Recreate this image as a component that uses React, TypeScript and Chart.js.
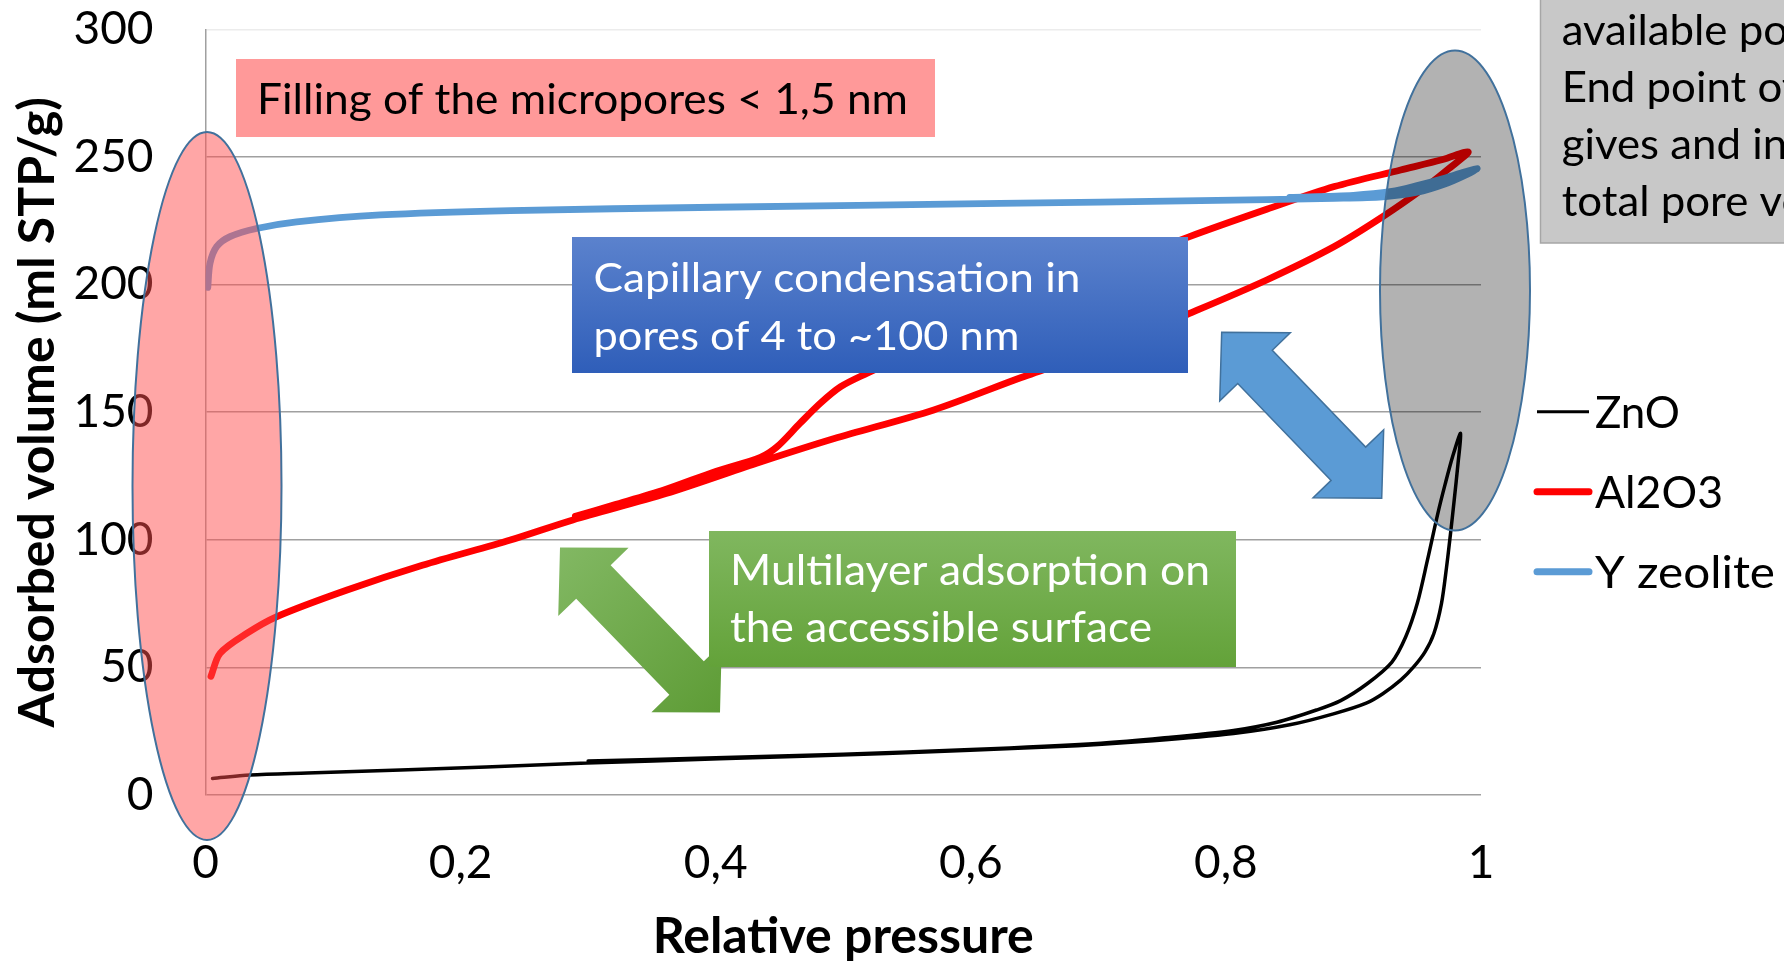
import React, { useEffect, useRef } from 'react';
import { Chart, registerables } from 'chart.js';

Chart.register(...registerables);

const CANVAS_W = 1784;
const CANVAS_H = 962;
const FONT = 'Lato, "Noto Sans", sans-serif';

// ---- series ----
const seriesNames = ['ZnO', 'Al2O3', 'Y zeolite'];
const seriesColors = ['#000000', '#ff0000', '#5b9bd5'];
const seriesWidths = [3.5, 6.8, 6.8];

// ZnO: adsorption branch, then desorption branch back down
const znoAdsP = [0.0055, 0.035, 0.08, 0.153, 0.22, 0.299, 0.403, 0.534, 0.665, 0.743, 0.806, 0.85, 0.885, 0.91, 0.923, 0.937, 0.947, 0.956, 0.963, 0.969, 0.973, 0.976, 0.979, 0.982, 0.984];
const znoAdsV = [6.5, 7.8, 8.6, 9.8, 11.0, 12.5, 14.2, 16.3, 18.9, 21.3, 24.1, 27.5, 31.9, 36.0, 39.7, 45, 50.1, 56, 63.2, 75, 89.3, 102, 115.6, 130, 141.7];
const znoDesP = [0.978, 0.972, 0.966, 0.958, 0.95, 0.941, 0.93, 0.911, 0.89, 0.871, 0.84, 0.806, 0.75, 0.702, 0.6, 0.5, 0.4, 0.3];
const znoDesV = [133, 122, 110, 92, 75, 62, 52, 43.7, 37, 33.3, 28.5, 25.3, 22.3, 20.3, 17.8, 16.0, 14.6, 13.3];

// Al2O3
const al2AdsP = [0.0043, 0.0114, 0.0323, 0.056, 0.111, 0.17, 0.239, 0.288, 0.361, 0.435, 0.493, 0.571, 0.639, 0.71, 0.771, 0.832, 0.885, 0.923, 0.957, 0.975, 0.99];
const al2AdsV = [46.5, 55.5, 63.3, 69.9, 80.3, 90, 99.9, 107.8, 118.1, 130.5, 139.7, 150.9, 163.5, 176, 188.6, 201.8, 214.9, 226.6, 238.4, 245.5, 252];
const al2DesP = [0.97, 0.937, 0.885, 0.832, 0.771, 0.7, 0.65, 0.6, 0.55, 0.518, 0.498, 0.482, 0.466, 0.448, 0.435, 0.4, 0.36, 0.32, 0.29];
const al2DesV = [249, 244.9, 238.4, 229.5, 218.7, 205, 194, 183, 172.5, 165.1, 160, 153.5, 145.6, 136.4, 132.3, 126.8, 119.6, 113.6, 109.2];

// Y zeolite
const zeoAdsP = [0.0018, 0.0035, 0.0088, 0.0192, 0.04, 0.0715, 0.137, 0.239, 0.4, 0.623, 0.78, 0.885, 0.923, 0.95, 0.971, 0.989, 0.997];
const zeoAdsV = [198.9, 208.3, 214.9, 218.8, 222.0, 224.6, 227.3, 229.0, 230.3, 231.8, 232.9, 233.8, 234.4, 236.2, 239.3, 243.2, 245.5];
const zeoDesP = [0.985, 0.97, 0.95, 0.93, 0.9, 0.85];
const zeoDesV = [243.8, 241.5, 238.8, 236.5, 235.0, 234.2];

// ---- axes ----
const xTicks = [0, 0.2, 0.4, 0.6, 0.8, 1];
const xTickLabels = ['0', '0,2', '0,4', '0,6', '0,8', '1'];
const yMin = 0;
const yMax = 300;
const yStep = 50;
const xTitle = 'Relative pressure';
const yTitle = 'Adsorbed volume (ml STP/g)';

// ---- annotation texts ----
const microText = ['Filling of the micropores < 1,5 nm'];
const capillaryText = ['Capillary condensation in', 'pores of 4 to ~100 nm'];
const multilayerText = ['Multilayer adsorption on', 'the accessible surface'];
const endPointText = ['available pores.', 'End point of the isotherm', 'gives and indication of the', 'total pore volume'];

const toPoints = (ps: number[], vs: number[]) => ps.map((p, i) => ({ x: p, y: vs[i] }));

const branches = [
  [...toPoints(znoAdsP, znoAdsV), ...toPoints(znoDesP, znoDesV)],
  [...toPoints(al2AdsP, al2AdsV), ...toPoints(al2DesP, al2DesV)],
  [...toPoints(zeoAdsP, zeoAdsV), ...toPoints(zeoDesP, zeoDesV)],
];

function fitText(ctx: CanvasRenderingContext2D, text: string, x: number, y: number, targetW?: number) {
  const w = ctx.measureText(text).width;
  const s = targetW ? targetW / w : 1;
  ctx.save();
  ctx.translate(x, y);
  ctx.scale(s, 1);
  ctx.fillText(text, 0, 0);
  ctx.restore();
}

function ellipse(ctx: CanvasRenderingContext2D, cx: number, cy: number, rx: number, ry: number, fill: string, stroke: string) {
  ctx.beginPath();
  ctx.ellipse(cx, cy, rx, ry, 0, 0, Math.PI * 2);
  ctx.fillStyle = fill;
  ctx.fill();
  ctx.lineWidth = 2;
  ctx.strokeStyle = stroke;
  ctx.stroke();
}

function doubleArrow(ctx: CanvasRenderingContext2D, ax: number, ay: number, bx: number, by: number, headLen: number, headHalf: number, shaftHalf: number) {
  const dx = bx - ax;
  const dy = by - ay;
  const L = Math.hypot(dx, dy);
  const ux = dx / L, uy = dy / L;
  const nx = -uy, ny = ux;
  const p = (bxs: number, bys: number, along: number, side: number) => [bxs + ux * along + nx * side, bys + uy * along + ny * side];
  const pts = [
    [ax, ay],
    p(ax, ay, headLen, headHalf),
    p(ax, ay, headLen, shaftHalf),
    p(bx, by, -headLen, shaftHalf),
    p(bx, by, -headLen, headHalf),
    [bx, by],
    p(bx, by, -headLen, -headHalf),
    p(bx, by, -headLen, -shaftHalf),
    p(ax, ay, headLen, -shaftHalf),
    p(ax, ay, headLen, -headHalf),
  ];
  ctx.beginPath();
  pts.forEach(([x, y], i) => (i === 0 ? ctx.moveTo(x, y) : ctx.lineTo(x, y)));
  ctx.closePath();
}

function gradientBox(ctx: CanvasRenderingContext2D, x: number, y: number, w: number, h: number, top: string, bottom: string) {
  const g = ctx.createLinearGradient(0, y, 0, y + h);
  g.addColorStop(0, top);
  g.addColorStop(1, bottom);
  ctx.fillStyle = g;
  ctx.fillRect(x, y, w, h);
}

const overlayPlugin = {
  id: 'isothermOverlay',
  afterDraw(chart: any) {
    const ctx: CanvasRenderingContext2D = chart.ctx;
    ctx.save();

    // highlighted regions of the isotherm
    ellipse(ctx, 207, 486, 74.5, 354, 'rgba(255, 77, 77, 0.5)', '#41719c');
    ellipse(ctx, 1455, 290.5, 75, 240, 'rgba(0, 0, 0, 0.3)', '#41719c');

    // double arrows
    doubleArrow(ctx, 1221.7, 332.3, 1381.7, 498.3, 48, 49, 24);
    ctx.fillStyle = '#5b9bd5';
    ctx.fill();
    ctx.lineWidth = 1.5;
    ctx.strokeStyle = '#41719c';
    ctx.stroke();

    doubleArrow(ctx, 560, 547.5, 720, 712.5, 48, 49, 24);
    const ga = ctx.createLinearGradient(560, 547, 720, 712);
    ga.addColorStop(0, '#82b863');
    ga.addColorStop(1, '#5e9c36');
    ctx.fillStyle = ga;
    ctx.fill();

    // text boxes
    ctx.textBaseline = 'alphabetic';
    ctx.textAlign = 'left';

    ctx.fillStyle = '#ff9999';
    ctx.fillRect(236, 59, 699, 78);
    ctx.fillStyle = '#000000';
    ctx.font = `42px ${FONT}`;
    fitText(ctx, microText[0], 257, 113.5, 651);

    gradientBox(ctx, 572, 237, 616, 136, '#5b82cd', '#2f5eb9');
    ctx.fillStyle = '#ffffff';
    ctx.font = `40px ${FONT}`;
    fitText(ctx, capillaryText[0], 593.5, 291.7, 487);
    fitText(ctx, capillaryText[1], 593.5, 350, 426);

    gradientBox(ctx, 709, 531, 527, 136, '#80b75f', '#63a239');
    ctx.fillStyle = '#ffffff';
    ctx.font = `42px ${FONT}`;
    fitText(ctx, multilayerText[0], 730, 585, 480);
    fitText(ctx, multilayerText[1], 730, 641.7, 422);

    ctx.fillStyle = '#c8c8c8';
    ctx.fillRect(1540.5, -2, 260, 245);
    ctx.lineWidth = 1.5;
    ctx.strokeStyle = '#a6a6a6';
    ctx.strokeRect(1540.5, -2, 260, 245);
    ctx.fillStyle = '#000000';
    ctx.font = `42px ${FONT}`;
    const sx = 177 / ctx.measureText('available ').width;
    const baselines = [45, 102, 159, 216];
    endPointText.forEach((t, i) => {
      ctx.save();
      ctx.translate(1561.7, baselines[i]);
      ctx.scale(sx, 1);
      ctx.fillText(t, 0, 0);
      ctx.restore();
    });

    // legend
    const legendY = [411.7, 491.7, 571.7];
    const legendW = [85, 128, 180];
    chart.data.datasets.forEach((ds: any, i: number) => {
      const y = legendY[i];
      ctx.beginPath();
      ctx.moveTo(1537, y);
      ctx.lineTo(1589, y);
      ctx.strokeStyle = ds.borderColor;
      ctx.lineWidth = i === 0 ? 3 : 7;
      ctx.lineCap = i === 0 ? 'butt' : 'round';
      ctx.stroke();
      ctx.fillStyle = '#000000';
      ctx.font = `44px ${FONT}`;
      fitText(ctx, ds.label, 1595, y + 16, legendW[i]);
    });

    ctx.restore();
  },
};

export default function App() {
  const canvasRef = useRef<HTMLCanvasElement | null>(null);

  useEffect(() => {
    if (!canvasRef.current) return;
    const chart = new Chart(canvasRef.current, {
      type: 'scatter',
      data: {
        datasets: seriesNames.map((name, i) => ({
          label: name,
          data: branches[i],
          showLine: true,
          borderColor: seriesColors[i],
          backgroundColor: seriesColors[i],
          borderWidth: seriesWidths[i],
          pointRadius: 0,
          pointHoverRadius: 0,
          tension: 0.3,
          borderCapStyle: 'round',
          borderJoinStyle: 'round',
          order: 3 - i,
        })),
      },
      options: {
        responsive: false,
        animation: false,
        devicePixelRatio: 1,
        layout: { padding: { left: 0, top: 29.4, right: 303, bottom: 0 } },
        plugins: {
          legend: { display: false },
          tooltip: { enabled: false },
        },
        scales: {
          x: {
            type: 'linear',
            min: 0,
            max: 1,
            afterFit: (scale: any) => {
              scale.height = 167;
            },
            afterBuildTicks: (scale: any) => {
              scale.ticks = xTicks.map((v) => ({ value: v }));
            },
            ticks: {
              padding: 41,
              color: '#000000',
              font: { family: FONT, size: 46 },
              callback: (value: any) => {
                const idx = xTicks.findIndex((t) => Math.abs(t - Number(value)) < 1e-6);
                return idx >= 0 ? xTickLabels[idx] : '';
              },
            },
            grid: { display: false, drawTicks: false },
            border: { display: false },
            title: {
              display: true,
              text: xTitle,
              color: '#000000',
              font: { family: FONT, size: 50, weight: 'bold', lineHeight: 1 },
              padding: 0,
            },
          },
          y: {
            type: 'linear',
            min: yMin,
            max: yMax,
            afterFit: (scale: any) => {
              scale.width = 205.5;
              scale.paddingTop = 0;
              scale.paddingBottom = 0;
            },
            ticks: {
              stepSize: yStep,
              padding: 52,
              color: '#000000',
              font: { family: FONT, size: 46 },
            },
            grid: {
              drawTicks: false,
              lineWidth: 1.5,
              color: (c: any) => (c.tick && c.tick.value === yMax ? '#ececec' : '#a0a0a0'),
            },
            border: { display: true, color: '#a0a0a0', width: 1.5 },
            title: {
              display: true,
              text: yTitle,
              color: '#000000',
              font: { family: FONT, size: 50, weight: 'bold' },
              padding: { top: 8, bottom: 0 },
            },
          },
        },
      },
      plugins: [overlayPlugin],
    } as any);
    return () => chart.destroy();
  }, []);

  return (
    <div style={{ position: 'fixed', left: 0, top: 0, width: CANVAS_W, height: CANVAS_H, background: '#ffffff' }}>
      <canvas ref={canvasRef} width={CANVAS_W} height={CANVAS_H} style={{ display: 'block' }} />
    </div>
  );
}
